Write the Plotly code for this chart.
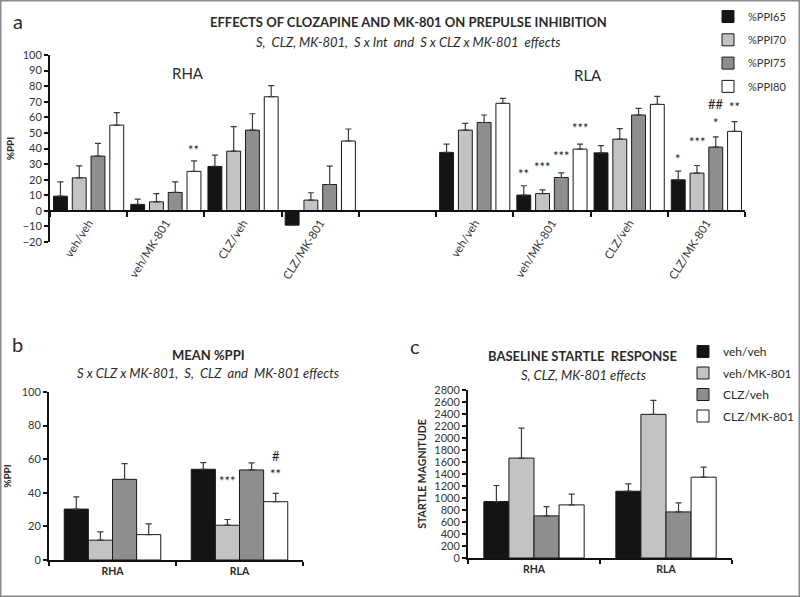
import plotly.graph_objects as go

# ---------------- DATA ----------------
# Panel a: %PPI by prepulse intensity, groups (RHA then RLA)
groups_a = ["veh/veh", "veh/MK-801", "CLZ/veh", "CLZ/MK-801"]
series_a = ["%PPI65", "%PPI70", "%PPI75", "%PPI80"]
rha_ppi65 = [9.4, 4.1, 28.5, -9.2]
rha_ppi70 = [21.2, 5.8, 38.3, 6.9]
rha_ppi75 = [35.1, 11.8, 51.8, 16.9]
rha_ppi80 = [55.0, 25.3, 73.2, 44.8]
rha_err65 = [9.2, 3.4, 7.3, 0.0]
rha_err70 = [7.7, 5.3, 15.7, 4.7]
rha_err75 = [8.2, 6.8, 10.5, 11.8]
rha_err80 = [8.0, 6.8, 7.1, 7.7]
rla_ppi65 = [37.5, 10.1, 37.2, 19.9]
rla_ppi70 = [51.8, 11.1, 46.0, 24.2]
rla_ppi75 = [56.7, 21.4, 61.5, 40.9]
rla_ppi80 = [69.0, 39.6, 68.3, 51.0]
rla_err65 = [5.3, 6.0, 4.6, 5.6]
rla_err70 = [4.3, 2.4, 6.7, 4.9]
rla_err75 = [4.8, 3.0, 4.2, 6.6]
rla_err80 = [3.2, 3.2, 5.1, 6.2]

# Panel b: mean %PPI
lines_bc = ["RHA", "RLA"]
treatments = ["veh/veh", "veh/MK-801", "CLZ/veh", "CLZ/MK-801"]
mean_ppi = {
    "veh/veh": [30.3, 54.0],
    "veh/MK-801": [11.8, 20.7],
    "CLZ/veh": [48.0, 53.6],
    "CLZ/MK-801": [15.1, 34.7],
}
mean_err = {
    "veh/veh": [7.3, 4.0],
    "veh/MK-801": [4.9, 3.4],
    "CLZ/veh": [9.4, 4.2],
    "CLZ/MK-801": [6.4, 4.9],
}

# Panel c: baseline startle
startle = {
    "veh/veh": [941, 1113],
    "veh/MK-801": [1665, 2394],
    "CLZ/veh": [702, 768],
    "CLZ/MK-801": [885, 1347],
}
startle_err = {
    "veh/veh": [267, 123],
    "veh/MK-801": [501, 234],
    "CLZ/veh": [155, 151],
    "CLZ/MK-801": [178, 167],
}

# significance labels: (group slot, series index, text, y)
sig_a = [
    (1, 3, "**", 32.5),
    (6, 0, "**", 17.0),
    (6, 1, "***", 22.0),
    (6, 2, "***", 29.0),
    (6, 3, "***", 47.0),
    (8, 0, "*", 27.0),
    (8, 1, "***", 38.0),
    (8, 2, "*", 50.0),
    (8, 2, "##", 62.0),
    (8, 3, "**", 60.0),
]
sig_b = [
    (1, 1, "***", 41.0),
    (1, 3, "**", 45.0),
    (1, 3, "#", 56.0),
]

# ---------------- STYLE ----------------
colors = ["#141414", "#c3c3c3", "#8e8e8e", "#ffffff"]
FONT = "Lato"
TXT = "#2a2a2a"
W, H = 800, 597


def px_x(p):
    return p / W


def px_y(p):
    return 1 - p / H


dom_a_x = [px_x(50), px_x(745)]
dom_a_y = [px_y(242), px_y(55)]
dom_b_x = [px_x(49), px_x(303)]
dom_b_y = [px_y(560), px_y(392)]
dom_c_x = [px_x(468), px_x(732)]
dom_c_y = [px_y(558), px_y(390)]

rangea = [-20, 100]
zero_pos = dom_a_y[0] + (0 - rangea[0]) / (rangea[1] - rangea[0]) * (dom_a_y[1] - dom_a_y[0])

# slot positions: 4 RHA groups, empty slot, 4 RLA groups
slots_rha = list(range(len(groups_a)))
slots_rla = [len(groups_a) + 1 + i for i in range(len(groups_a))]
slots = slots_rha + slots_rla
n_slots = len(slots) + 1

bar_w = 0.18
bar_step = 0.243
offsets = [-(3 * bar_step + bar_w) / 2 + j * bar_step for j in range(4)]

rha_vals = [rha_ppi65, rha_ppi70, rha_ppi75, rha_ppi80]
rha_errs = [rha_err65, rha_err70, rha_err75, rha_err80]
rla_vals = [rla_ppi65, rla_ppi70, rla_ppi75, rla_ppi80]
rla_errs = [rla_err65, rla_err70, rla_err75, rla_err80]

fig = go.Figure()

err_style = dict(type="data", symmetric=False, color="#3a3a3a", thickness=1.2, width=3)

for j, name in enumerate(series_a):
    ys = rha_vals[j] + rla_vals[j]
    es = rha_errs[j] + rla_errs[j]
    fig.add_trace(go.Bar(
        x=slots, y=ys, name=name, width=bar_w, offset=offsets[j],
        marker=dict(color=colors[j], line=dict(color="#1a1a1a", width=1)),
        error_y=dict(array=es, arrayminus=[0] * len(es), **err_style),
        xaxis="x", yaxis="y", legend="legend", legendgroup=name,
    ))

for j, t in enumerate(treatments):
    fig.add_trace(go.Bar(
        x=lines_bc, y=mean_ppi[t], name=t, showlegend=False,
        marker=dict(color=colors[j], line=dict(color="#1a1a1a", width=1)),
        error_y=dict(array=mean_err[t], arrayminus=[0, 0], **err_style),
        xaxis="x2", yaxis="y2",
    ))
    fig.add_trace(go.Bar(
        x=lines_bc, y=startle[t], name=t,
        marker=dict(color=colors[j], line=dict(color="#1a1a1a", width=1)),
        error_y=dict(array=startle_err[t], arrayminus=[0, 0], **err_style),
        xaxis="x3", yaxis="y3", legend="legend2", legendgroup="c" + t,
    ))

annotations = []
for slot_i, j, txt, yv in sig_a:
    annotations.append(dict(x=slot_i + offsets[j] + bar_w / 2, y=yv, xref="x", yref="y",
                            text=txt, showarrow=False, yanchor="bottom",
                            font=dict(family=FONT, size=13, color="#222")))
n_tr = len(treatments)
for gi, j, txt, yv in sig_b:
    xb = gi + (-0.5 + 0.12) + (j + 0.5) * (0.76 / n_tr)
    annotations.append(dict(x=xb, y=yv, xref="x2", yref="y2",
                            text=txt, showarrow=False, yanchor="bottom",
                            font=dict(family=FONT, size=13, color="#222")))


def ptext(x, y, text, size, bold=False, italic=False, anchor="center"):
    t = text
    if bold:
        t = "<b>" + t + "</b>"
    if italic:
        t = "<i>" + t + "</i>"
    annotations.append(dict(x=px_x(x), y=px_y(y), xref="paper", yref="paper", text=t,
                            showarrow=False, xanchor=anchor, yanchor="middle",
                            font=dict(family=FONT, size=size, color=TXT)))


ptext(18, 21, "a", 20)
ptext(408, 22, "EFFECTS OF CLOZAPINE AND MK-801 ON PREPULSE INHIBITION", 13, bold=True)
ptext(408, 42, "S,  CLZ, MK-801,  S x Int  and  S x CLZ x MK-801  effects", 13, italic=True)
ptext(188, 73, "RHA", 15)
ptext(588, 75, "RLA", 15)
ptext(17, 344, "b", 20)
ptext(208, 355, "MEAN %PPI", 13, bold=True)
ptext(208, 373, "S x CLZ x MK-801,  S,  CLZ  and  MK-801 effects", 13, italic=True)
ptext(415, 346, "c", 20)
ptext(582, 356, "BASELINE STARTLE  RESPONSE", 13, bold=True)
ptext(583, 375, "S, CLZ, MK-801 effects", 13, italic=True)

tickfont = dict(family=FONT, size=11, color="#333")
axis_common = dict(showline=True, linecolor="#111", linewidth=2, ticks="outside",
                   tickcolor="#111", tickwidth=2, ticklen=4, showgrid=False,
                   zeroline=False, tickfont=tickfont, automargin=False)
axis_nofont = {k: v for k, v in axis_common.items() if k != "tickfont"}

fig.update_layout(
    width=W, height=H, margin=dict(l=0, r=0, t=0, b=0, autoexpand=False),
    paper_bgcolor="white", plot_bgcolor="rgba(0,0,0,0)",
    barmode="group", bargap=0.24, bargroupgap=0,
    font=dict(family=FONT, color=TXT),
    xaxis=dict(domain=dom_a_x, range=[-0.5, n_slots - 0.5], anchor="free", position=zero_pos,
               tickmode="array", tickvals=slots, ticktext=groups_a + groups_a,
               tickangle=-58, showline=True, linecolor="#111", linewidth=2, ticks="",
               showgrid=False, zeroline=False, automargin=False,
               tickfont=dict(family=FONT, size=11.5, color="#333"),
               minor=dict(tickmode="array",
                          tickvals=[i - 0.5 for i in range(n_slots + 1)],
                          ticks="outside", ticklen=5, tickwidth=2, tickcolor="#111")),
    yaxis=dict(domain=dom_a_y, range=rangea, dtick=10, anchor="x",
               title=dict(text="<b>%PPI</b>", font=dict(family=FONT, size=10, color=TXT), standoff=6),
               **axis_common),
    xaxis2=dict(domain=dom_b_x, anchor="y2", tickson="boundaries",
                tickfont=dict(family=FONT, size=10.5, color=TXT, weight="bold"),
                **axis_nofont),
    yaxis2=dict(domain=dom_b_y, range=[0, 100], dtick=20, anchor="x2",
                title=dict(text="<b>%PPI</b>", font=dict(family=FONT, size=10, color=TXT), standoff=8),
                **axis_common),
    xaxis3=dict(domain=dom_c_x, anchor="y3", tickson="boundaries",
                tickfont=dict(family=FONT, size=10.5, color=TXT, weight="bold"),
                **axis_nofont),
    yaxis3=dict(domain=dom_c_y, range=[0, 2800], dtick=200, anchor="x3",
                title=dict(text="<b>STARTLE MAGNITUDE</b>", font=dict(family=FONT, size=10.5, color=TXT), standoff=6),
                **axis_common),
    legend=dict(x=px_x(708), y=px_y(2), xanchor="left", yanchor="top",
                font=dict(family=FONT, size=11, color="#333"), tracegroupgap=4.3,
                bgcolor="rgba(0,0,0,0)"),
    legend2=dict(x=px_x(683), y=px_y(337), xanchor="left", yanchor="top",
                 font=dict(family=FONT, size=12, color=TXT), tracegroupgap=2.5,
                 bgcolor="rgba(0,0,0,0)"),
    annotations=annotations,
    shapes=[dict(type="rect", xref="paper", yref="paper", x0=0, y0=0, x1=1, y1=1,
                 line=dict(color="#8a8a8a", width=3))],
)

fig.write_html("out.html", config={"displayModeBar": False},
               post_script="document.body.style.margin='0';document.body.style.overflow='hidden';")
